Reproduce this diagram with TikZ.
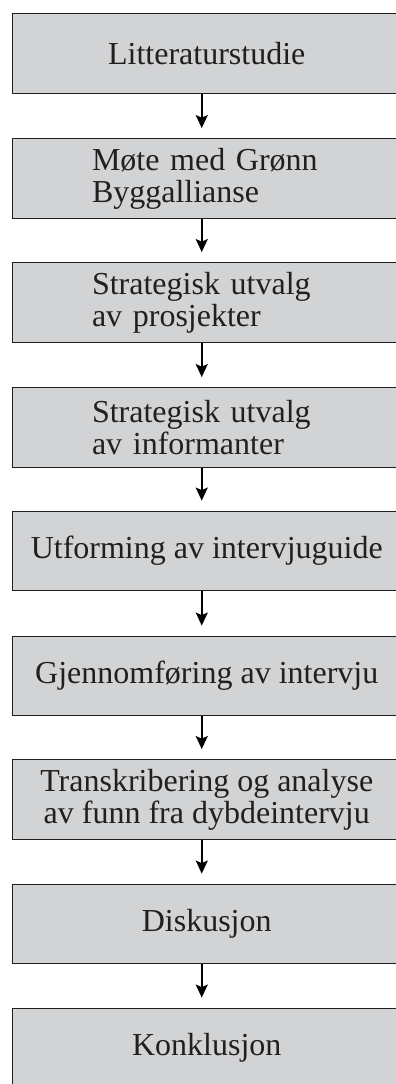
\documentclass[tikz,border=0pt]{standalone}
\usepackage{fontspec}
\setmainfont{Liberation Serif}
\usetikzlibrary{arrows.meta}
\definecolor{boxfill}{RGB}{209,211,212}
\definecolor{boxline}{RGB}{35,31,32}

\begin{document}
\begin{tikzpicture}[x=1pt,y=-1pt,
    stage/.style={draw=boxline, fill=boxfill, line width=1.3pt, text=boxline,
      minimum width=388.5pt, minimum height=79.5pt, inner sep=0pt,
      font=\fontsize{32}{32}\selectfont},
    leftstage/.style={stage, text width=229.5pt, align=left},
    flow/.style={line width=1.6pt, draw=black, shorten >=10pt,
      -{Stealth[length=13pt,width=12pt,inset=2.5pt]}}]
      \useasboundingbox (0,0) rectangle (396,1084);
      \node[stage] (lit) at (206.75, 53.5) {Litteraturstudie};
      \node[leftstage] (mote) at (206.75, 178.5) {Møte med Grønn\\Byggallianse};
      \node[leftstage] (prosj) at (206.75, 302.5) {Strategisk utvalg\\av prosjekter};
      \node[leftstage] (inform) at (206.75, 427.5) {Strategisk utvalg\\av informanter};
      \node[stage] (guide) at (206.75, 551) {Utforming av intervjuguide};
      \node[stage] (gjen) at (206.75, 676) {Gjennomføring av intervju};
      \node[stage, align=center] (trans) at (206.75, 799.5) {Transkribering og analyse\\av funn fra dybdeintervju};
      \node[stage] (disk) at (206.75, 924) {Diskusjon};
      \node[stage] (konk) at (206.75, 1048) {Konklusjon};
      \draw [flow] ([xshift=-5pt]lit.south) to ([xshift=-5pt]mote.north);
      \draw [flow] ([xshift=-5pt]mote.south) to ([xshift=-5pt]prosj.north);
      \draw [flow] ([xshift=-5pt]prosj.south) to ([xshift=-5pt]inform.north);
      \draw [flow] ([xshift=-5pt]inform.south) to ([xshift=-5pt]guide.north);
      \draw [flow] ([xshift=-5pt]guide.south) to ([xshift=-5pt]gjen.north);
      \draw [flow] ([xshift=-5pt]gjen.south) to ([xshift=-5pt]trans.north);
      \draw [flow] ([xshift=-5pt]trans.south) to ([xshift=-5pt]disk.north);
      \draw [flow] ([xshift=-5pt]disk.south) to ([xshift=-5pt]konk.north);
    \end{tikzpicture}
\end{document}
